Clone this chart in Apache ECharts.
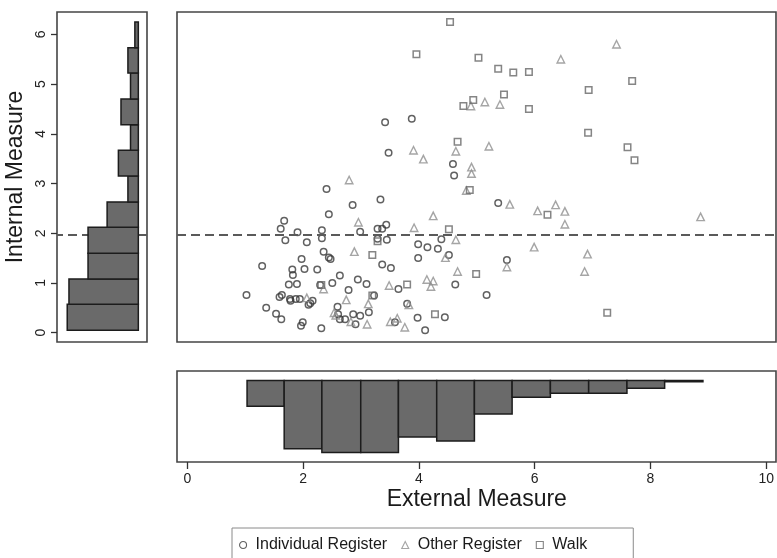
<!DOCTYPE html>
<html>
<head>
<meta charset="utf-8">
<script src="https://cdn.jsdelivr.net/npm/echarts/dist/echarts.min.js"></script>
<style>
html,body{margin:0;padding:0;background:#fff;}
#chart{width:777px;height:558px;}
</style>
</head>
<body>
<div id="chart"></div>
<script>
// ---------------- DATA ----------------
const seriesNames = ['Individual Register', 'Other Register', 'Walk'];

const individualRegister = [
  [3.41,4.23],[3.87,4.30],[3.47,3.62],[4.58,3.39],[4.60,3.16],[2.40,2.89],[2.85,2.57],[3.33,2.68],
  [2.44,2.38],[1.67,2.25],[1.61,2.09],[1.90,2.02],[2.32,2.06],[2.98,2.03],[3.28,2.09],[3.36,2.09],
  [3.43,2.17],[1.69,1.86],[2.06,1.82],[2.32,1.90],[3.28,1.89],[3.44,1.87],[4.38,1.88],[3.98,1.78],
  [4.14,1.72],[4.32,1.69],[3.98,1.50],[4.51,1.56],[2.35,1.63],[2.44,1.51],[2.47,1.48],[3.36,1.37],
  [3.51,1.30],[1.29,1.34],[1.97,1.48],[1.81,1.27],[2.02,1.28],[2.24,1.27],[1.82,1.16],[2.63,1.15],
  [2.50,1.00],[2.29,0.96],[1.75,0.97],[1.89,0.98],[2.94,1.07],[3.09,0.98],[2.78,0.86],[3.64,0.88],
  [4.62,0.97],[1.02,0.76],[1.59,0.72],[1.63,0.76],[1.77,0.68],[1.78,0.64],[1.87,0.68],[1.94,0.68],
  [2.09,0.56],[2.12,0.59],[2.16,0.64],[3.22,0.75],[3.79,0.58],[1.36,0.50],[1.53,0.38],[1.62,0.27],
  [1.99,0.21],[1.96,0.14],[2.31,0.09],[2.59,0.52],[2.60,0.37],[2.63,0.27],[2.72,0.27],[2.86,0.37],
  [2.90,0.17],[2.98,0.34],[3.13,0.41],[3.58,0.21],[3.97,0.30],[4.44,0.31],[4.10,0.05],[5.36,2.61],
  [5.51,1.46],[5.16,0.76]
];

const otherRegister = [
  [4.89,4.56],[3.90,3.67],[4.63,3.65],[4.07,3.49],[4.90,3.33],[4.90,3.20],[2.79,3.07],[7.40,5.80],
  [6.44,5.50],[5.13,4.64],[5.39,4.59],[5.20,3.75],[5.56,2.58],[6.04,2.45],[6.35,2.57],[6.51,2.44],
  [6.51,2.18],[8.85,2.33],[5.98,1.72],[6.90,1.58],[5.51,1.32],[6.85,1.23],[4.81,2.86],[4.24,2.35],
  [2.95,2.22],[3.91,2.11],[4.63,1.87],[4.45,1.51],[2.88,1.63],[3.48,0.95],[4.13,1.07],[4.24,1.04],
  [4.20,0.93],[4.66,1.23],[2.35,0.88],[2.06,0.70],[2.74,0.66],[3.12,0.58],[3.82,0.56],[2.53,0.40],
  [2.56,0.35],[2.82,0.22],[3.10,0.17],[3.50,0.22],[3.62,0.29],[3.75,0.11]
];

const walk = [
  [4.53,6.25],[3.95,5.60],[5.02,5.53],[4.93,4.68],[4.76,4.56],[4.66,3.84],[5.36,5.31],[5.62,5.23],
  [5.89,5.24],[7.67,5.06],[6.92,4.88],[5.46,4.79],[5.89,4.50],[6.91,4.02],[7.59,3.73],[7.71,3.47],
  [4.87,2.87],[6.21,2.37],[4.98,1.18],[7.24,0.40],[4.51,2.08],[3.28,1.84],[3.19,1.56],[3.79,0.97],
  [2.31,0.96],[3.19,0.75],[4.27,0.37]
];

const thresholdLine = 1.97;

// histogram of Internal Measure (left panel)
const internalBinEdges = [0.05,0.57,1.08,1.60,2.12,2.63,3.15,3.67,4.18,4.70,5.22,5.73,6.25];
const internalBinHeights = [41,40,29,29,18,6,11.5,4.5,10,4.5,6,2];

// histogram of External Measure (bottom panel)
const externalBinEdges = [1.03,1.67,2.32,2.99,3.64,4.30,4.95,5.60,6.26,6.92,7.58,8.23,8.89];
const externalBinHeights = [10,26.5,28,28,22,23.5,13,6.5,5,5,3,0.5];

// tick labels
const xTickLabels = [0,2,4,6,8,10];
const yTickLabels = [0,1,2,3,4,5,6];

// ---------------- BUILD ----------------
const externalBins = externalBinHeights.map((h,i)=>[externalBinEdges[i], externalBinEdges[i+1], h]);
const internalBins = internalBinHeights.map((h,i)=>[internalBinEdges[i], internalBinEdges[i+1], h]);

const FONT = '"Liberation Sans", Arial, Helvetica, sans-serif';
const BAR_FILL = '#6a6a6a', BAR_STROKE = '#1c1c1c';
const FRAME = '#454545';

function renderVertical(params, api){
  const a = api.coord([api.value(0), 0]);
  const b = api.coord([api.value(1), api.value(2)]);
  return {type:'rect', shape:{x:a[0], y:Math.min(a[1],b[1]), width:b[0]-a[0], height:Math.abs(b[1]-a[1])},
          style:{fill:BAR_FILL, stroke:BAR_STROKE, lineWidth:1.5}};
}
function renderHorizontal(params, api){
  const a = api.coord([0, api.value(0)]);
  const b = api.coord([api.value(2), api.value(1)]);
  return {type:'rect', shape:{x:Math.min(a[0],b[0]), y:Math.min(a[1],b[1]), width:Math.abs(b[0]-a[0]), height:Math.abs(b[1]-a[1])},
          style:{fill:BAR_FILL, stroke:BAR_STROKE, lineWidth:1.5}};
}

const dashStyle = {color:'#5a5a5a', width:2, type:[9,5]};

const chart = echarts.init(document.getElementById('chart'), null, {renderer:'canvas'});
chart.setOption({
  animation:false,
  backgroundColor:'#ffffff',
  textStyle:{fontFamily:FONT},
  grid:[
    {left:177, top:12, width:599, height:330, show:true, borderColor:FRAME, borderWidth:1.6, containLabel:false},
    {left:57, top:12, width:90, height:330, show:true, borderColor:FRAME, borderWidth:1.6},
    {left:57, top:34.3, width:90, height:298.4, show:false},
    {left:177, top:371, width:599, height:91, show:true, borderColor:FRAME, borderWidth:1.6},
    {left:187.3, top:371, width:580, height:91, show:false}
  ],
  xAxis:[
    {gridIndex:0, type:'value', min:-0.178, max:10.15, show:false},
    {gridIndex:1, type:'value', min:-5, max:46.9, inverse:true, show:false},
    {gridIndex:2, type:'value', min:0, max:1, show:false},
    {gridIndex:3, type:'value', min:-0.178, max:10.15, show:false},
    {gridIndex:4, type:'value', min:xTickLabels[0], max:xTickLabels[xTickLabels.length-1], interval:2,
      position:'bottom',
      axisLine:{show:false},
      axisTick:{show:true, inside:false, length:7, lineStyle:{color:'#333', width:1.3}},
      axisLabel:{show:true, margin:10, fontSize:14, color:'#222', fontFamily:FONT},
      splitLine:{show:false},
      name:'External Measure', nameLocation:'middle', nameGap:26,
      nameTextStyle:{fontSize:23, color:'#1a1a1a', fontFamily:FONT}}
  ],
  yAxis:[
    {gridIndex:0, type:'value', min:-0.187, max:6.449, show:false},
    {gridIndex:1, type:'value', min:-0.187, max:6.449, show:true,
      axisLine:{show:false}, axisTick:{show:false}, axisLabel:{show:false}, splitLine:{show:false},
      name:'Internal Measure', nameLocation:'middle', nameGap:30,
      nameTextStyle:{fontSize:23, color:'#1a1a1a', fontFamily:FONT}},
    {gridIndex:2, type:'value', min:yTickLabels[0], max:yTickLabels[yTickLabels.length-1], interval:1,
      position:'left',
      axisLine:{show:false},
      axisTick:{show:true, inside:false, length:6, lineStyle:{color:'#333', width:1.3}},
      axisLabel:{show:true, rotate:90, margin:9, fontSize:14, color:'#222', fontFamily:FONT},
      splitLine:{show:false}},
    {gridIndex:3, type:'value', min:-3.7, max:31.7, inverse:true, show:false},
    {gridIndex:4, type:'value', min:0, max:1, show:false}
  ],
  legend:{
    data:seriesNames,
    left:232, top:528,
    padding:[9,46,20,7],
    itemGap:14,
    itemWidth:7, itemHeight:7,
    borderColor:'#8a8a8a', borderWidth:1,
    textStyle:{fontSize:16, color:'#1a1a1a', fontFamily:FONT, padding:[0,0,0,4]},
    itemStyle:{borderWidth:1.1}
  },
  series:[
    {name:seriesNames[0], type:'scatter', xAxisIndex:0, yAxisIndex:0, data:individualRegister,
      symbol:'circle', symbolSize:6.5, z:4,
      itemStyle:{color:'rgba(0,0,0,0)', borderColor:'#3a3a3a', borderWidth:1.5},
      markLine:{silent:true, symbol:['none','none'], label:{show:false}, lineStyle:dashStyle,
        data:[{yAxis:thresholdLine}]}},
    {name:seriesNames[1], type:'scatter', xAxisIndex:0, yAxisIndex:0, data:otherRegister,
      symbol:'triangle', symbolSize:7.5, z:4,
      itemStyle:{color:'rgba(0,0,0,0)', borderColor:'#8f8f8f', borderWidth:1.4}},
    {name:seriesNames[2], type:'scatter', xAxisIndex:0, yAxisIndex:0, data:walk,
      symbol:'rect', symbolSize:6.5, z:4,
      itemStyle:{color:'rgba(0,0,0,0)', borderColor:'#666666', borderWidth:1.5}},
    {name:'internalLine', type:'scatter', xAxisIndex:1, yAxisIndex:1, data:[], z:1,
      markLine:{silent:true, symbol:['none','none'], label:{show:false}, lineStyle:dashStyle,
        data:[{yAxis:thresholdLine}]}},
    {name:'internalHist', type:'custom', xAxisIndex:1, yAxisIndex:1, z:5,
      renderItem:renderHorizontal, data:internalBins, encode:{x:2, y:[0,1]}},
    {name:'externalHist', type:'custom', xAxisIndex:3, yAxisIndex:3, z:5,
      renderItem:renderVertical, data:externalBins, encode:{x:[0,1], y:2}}
  ]
});
</script>
</body>
</html>
